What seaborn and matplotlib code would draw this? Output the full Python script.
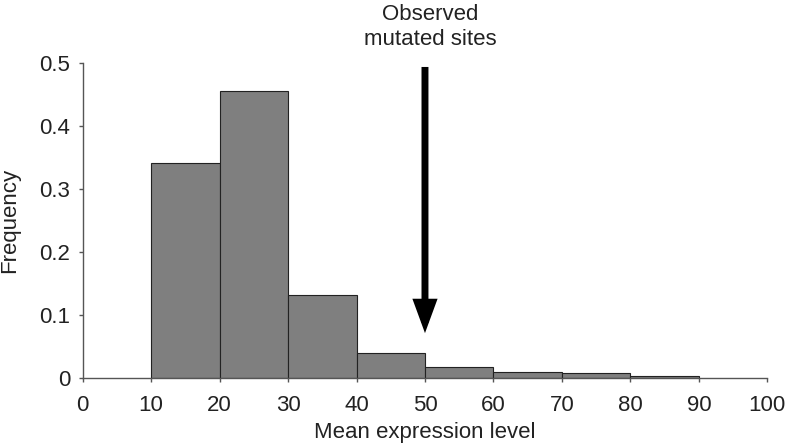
import matplotlib
matplotlib.use("Agg")
import matplotlib.pyplot as plt
import seaborn as sns
import numpy as np
import pandas as pd

bin_centers = [15, 25, 35, 45, 55, 65, 75, 85]
frequencies = [0.341, 0.456, 0.132, 0.040, 0.017, 0.009, 0.007, 0.003]
bin_edges = [10, 20, 30, 40, 50, 60, 70, 80, 90]
x_ticks = [0, 10, 20, 30, 40, 50, 60, 70, 80, 90, 100]
y_ticks = [0, 0.1, 0.2, 0.3, 0.4, 0.5]
y_tick_labels = ["0", "0.1", "0.2", "0.3", "0.4", "0.5"]
observed_value = 50
annotation = "Observed\nmutated sites"

sns.set_style("white")
plt.rcParams['font.family'] = ['Liberation Sans', 'DejaVu Sans']
txt = "#222222"

df = pd.DataFrame({"level": bin_centers, "freq": frequencies})

fig = plt.figure(figsize=(7.87, 4.45), dpi=100)
ax = fig.add_axes([0.105, 0.151, 0.87, 0.707])
sns.histplot(data=df, x="level", weights="freq", bins=bin_edges, ax=ax,
             color="#7f7f7f", edgecolor="#222222", linewidth=0.8, alpha=1.0)

ax.set_xlim(0, 100)
ax.set_ylim(0, 0.5)
ax.set_xticks(x_ticks)
ax.set_yticks(y_ticks)
ax.set_yticklabels(y_tick_labels)
ax.set_xlabel("Mean expression level", fontsize=16, labelpad=4.5, color=txt)
ax.set_ylabel("Frequency", fontsize=16, labelpad=14, color=txt)
ax.tick_params(axis="both", labelsize=16, length=3, width=1, color="#555555",
               labelcolor=txt, direction="out", bottom=True, left=True)
ax.tick_params(axis="x", pad=9.5)
ax.tick_params(axis="y", pad=6)
for s in ["top", "right"]:
    ax.spines[s].set_visible(False)
for s in ["left", "bottom"]:
    ax.spines[s].set_color("#555555")
    ax.spines[s].set_linewidth(1)

ax.annotate("", xy=(observed_value, 0.071), xytext=(observed_value, 0.494),
            arrowprops=dict(arrowstyle="-|>,head_width=0.55,head_length=1.5",
                            color="black", lw=5, shrinkA=0, shrinkB=0,
                            capstyle="butt", joinstyle="miter"))
fig.text(430 / 787, 1 - 27 / 445, annotation, ha="center", va="center",
         fontsize=16, linespacing=1.25, color=txt)

fig.savefig("out.png", dpi=100)
